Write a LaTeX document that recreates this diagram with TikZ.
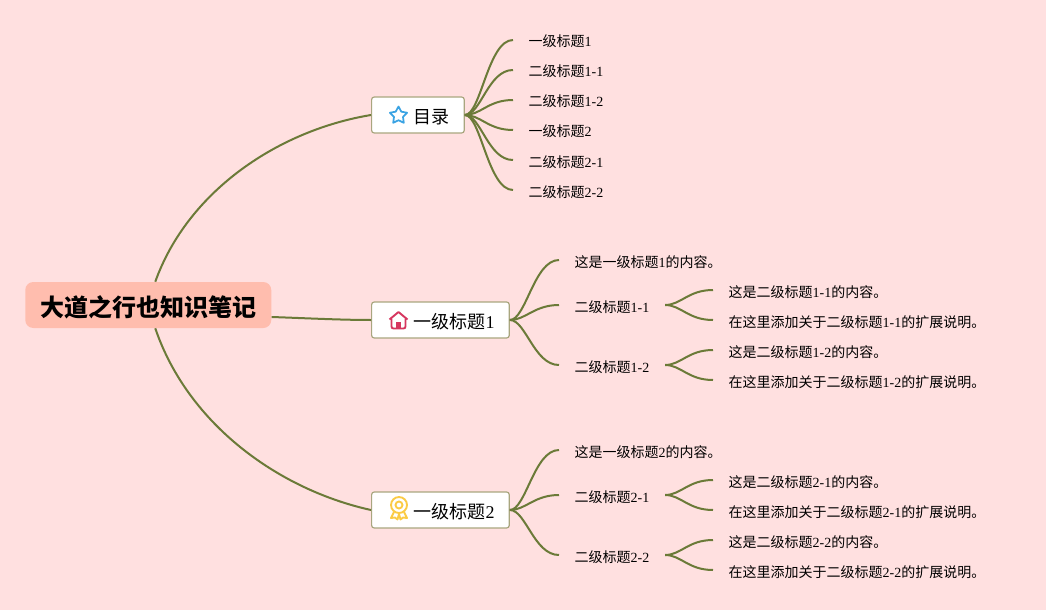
\documentclass[tikz,border=0pt]{standalone}
\usepackage{fontspec}
\setmainfont{Liberation Serif}
\newfontfamily\cjk{Noto Sans CJK SC}
\newcommand{\zh}[1]{{\cjk #1}}
\usetikzlibrary{shapes.geometric}
\definecolor{pagebg}{HTML}{FFE0E0}
\definecolor{rootbg}{HTML}{FFBDAE}
\definecolor{branchc}{HTML}{6B7A38}
\definecolor{framec}{HTML}{A9A67F}
\definecolor{starc}{HTML}{3AA3E3}
\definecolor{housec}{HTML}{D6365F}
\definecolor{medalc}{HTML}{FBCB45}
\tikzset{
  rootbox/.style={
    fill=rootbg, rounded corners=6pt, anchor=west,
    minimum width=184.5pt, minimum height=34.5pt,
    text height=18.5pt, text depth=1pt,
    align=center, font=\fontsize{18}{20}\selectfont\bfseries
  },
  mainbox/.style={
    draw=framec, fill=white, line width=0.9pt, rounded corners=2pt, anchor=west,
    minimum height=27pt, inner xsep=11pt,
    text height=14pt, text depth=1.5pt,
    font=\fontsize{13.5}{16}\selectfont
  },
  leaf/.style={
    anchor=west, inner xsep=11.6pt, inner ysep=0pt,
    text height=12pt, text depth=1.5pt,
    font=\fontsize{10.5}{12}\selectfont
  },
  branch/.style={draw=branchc, line width=1.5pt}
}
\begin{document}
\begin{tikzpicture}[x=0.75pt, y=-0.75pt]

%% Page
\fill[pagebg] (0,0) rectangle (1046,610);

%% Root and main boxes
\node[rootbox] (root) at (25,305) {\zh{大道之行也知识笔记}};
\node[mainbox] (toc) at (371,115) {\hspace{20.5pt}\zh{目录}};
\node[mainbox] (part1) at (371,320) {\hspace{20.5pt}\zh{一级标题}1};
\node[mainbox] (part2) at (371,510) {\hspace{20.5pt}\zh{一级标题}2};

%% Icons
\node[star, star points=5, star point ratio=1.9, draw=starc, line width=1.3pt, line join=round, inner sep=0pt, minimum size=13.5pt] (staricon) at (398.5,115.5) {};
\begin{scope}[shift={(398.5,320.5)}, line width=1.4pt]
  \draw[housec, line join=round] (-9,-1) -- (0,-8.5) -- (9,-1);
  \draw[housec, rounded corners=1.5pt] (-7,-2) -- (-7,8) -- (7,8) -- (7,-2);
  \fill[housec] (-2.5,8) -- (-2.5,1) -- (2.5,1) -- (2.5,8) -- cycle;
\end{scope}
\begin{scope}[shift={(399,505)}, line width=1.4pt]
  \draw[medalc] (0,0) circle (8);
  \draw[medalc] (0,0) circle (3.5);
  \draw[medalc, line join=round] (-5,7) -- (-8,13) -- (-4,12.5) -- (-1.5,14.5) -- (0,9) -- (1.5,14.5) -- (4,12.5) -- (8,13) -- (5,7);
\end{scope}

%% Contents leaves
\node[leaf] (toc1) at (513,40) {\zh{一级标题}1};
\node[leaf] (toc2) at (513,70) {\zh{二级标题}1-1};
\node[leaf] (toc3) at (513,100) {\zh{二级标题}1-2};
\node[leaf] (toc4) at (513,130) {\zh{一级标题}2};
\node[leaf] (toc5) at (513,160) {\zh{二级标题}2-1};
\node[leaf] (toc6) at (513,190) {\zh{二级标题}2-2};

%% Part 1
\node[leaf] (intro1) at (559,260) {\zh{这是一级标题}1\zh{的内容。}};
\node[leaf] (sec11) at (559,305) {\zh{二级标题}1-1};
\node[leaf] (sec12) at (559,365) {\zh{二级标题}1-2};
\node[leaf] (note11a) at (713,290) {\zh{这是二级标题}1-1\zh{的内容。}};
\node[leaf] (note11b) at (713,320) {\zh{在这里添加关于二级标题}1-1\zh{的扩展说明。}};
\node[leaf] (note12a) at (713,350) {\zh{这是二级标题}1-2\zh{的内容。}};
\node[leaf] (note12b) at (713,380) {\zh{在这里添加关于二级标题}1-2\zh{的扩展说明。}};

%% Part 2
\node[leaf] (intro2) at (559,450) {\zh{这是一级标题}2\zh{的内容。}};
\node[leaf] (sec21) at (559,495) {\zh{二级标题}2-1};
\node[leaf] (sec22) at (559,555) {\zh{二级标题}2-2};
\node[leaf] (note21a) at (713,480) {\zh{这是二级标题}2-1\zh{的内容。}};
\node[leaf] (note21b) at (713,510) {\zh{在这里添加关于二级标题}2-1\zh{的扩展说明。}};
\node[leaf] (note22a) at (713,540) {\zh{这是二级标题}2-2\zh{的内容。}};
\node[leaf] (note22b) at (713,570) {\zh{在这里添加关于二级标题}2-2\zh{的扩展说明。}};

%% Root branches
\draw[branch] ([xshift=5.25pt]root.north) .. controls +(33,-92) and +(-91,15) .. (toc.west);
\draw[branch] ([yshift=-9pt]root.east) .. controls +(30,1) and +(-30,0) .. (part1.west);
\draw[branch] ([xshift=5.25pt]root.south) .. controls +(33,97) and +(-91,-20) .. (part2.west);

%% Leaf branches
\foreach \from/\to in {toc/toc1,toc/toc2,toc/toc3,toc/toc4,toc/toc5,toc/toc6,
  part1/intro1,part1/sec11,part1/sec12,part2/intro2,part2/sec21,part2/sec22,
  sec11/note11a,sec11/note11b,sec12/note12a,sec12/note12b,
  sec21/note21a,sec21/note21b,sec22/note22a,sec22/note22b}
  \draw[branch] (\from.east) .. controls +(16,0) and +(-25,0) .. (\to.west);

\end{tikzpicture}
\end{document}
